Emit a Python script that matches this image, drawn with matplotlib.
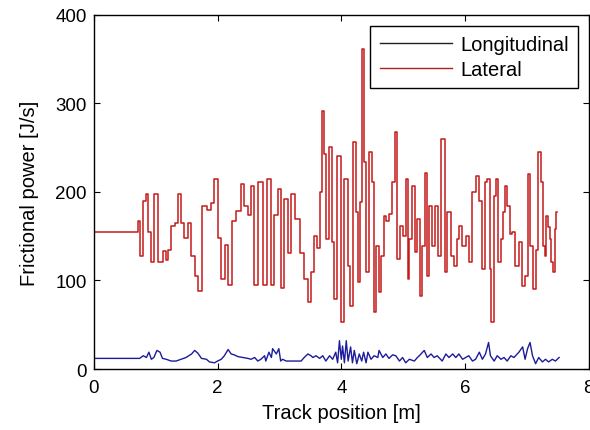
import matplotlib
matplotlib.use("Agg")
import matplotlib.pyplot as plt
from matplotlib.lines import Line2D

plt.rcParams['font.family'] = ['Liberation Sans Narrow', 'Liberation Sans', 'DejaVu Sans']

# lateral frictional power (J/s) against track position (m)
lat_x = [0.00, 0.70, 0.72, 0.76, 0.83, 0.86, 0.89, 0.95, 1.01, 1.08, 1.15, 1.18, 1.23,
         1.28, 1.33, 1.39, 1.44, 1.48, 1.55, 1.60, 1.66, 1.72, 1.79, 1.87, 1.92, 1.98,
         2.02, 2.09, 2.14, 2.19, 2.27, 2.34, 2.41, 2.46, 2.52, 2.57, 2.62, 2.70, 2.76,
         2.84, 2.89, 2.95, 3.00, 3.05, 3.11, 3.16, 3.21, 3.30, 3.35, 3.43, 3.48, 3.54,
         3.58, 3.63, 3.67, 3.71, 3.74, 3.78, 3.83, 3.87, 3.90, 3.97, 4.02, 4.08, 4.12,
         4.16, 4.21, 4.26, 4.29, 4.33, 4.35, 4.39, 4.42, 4.48, 4.52, 4.54, 4.59, 4.62,
         4.67, 4.71, 4.75, 4.80, 4.85, 4.89, 4.92, 4.98, 5.02, 5.06, 5.08, 5.12, 5.17,
         5.20, 5.24, 5.29, 5.33, 5.37, 5.40, 5.45, 5.49, 5.53, 5.58, 5.65, 5.69, 5.74,
         5.80, 5.85, 5.88, 5.93, 5.98, 6.04, 6.09, 6.15, 6.20, 6.25, 6.31, 6.34, 6.38,
         6.41, 6.44, 6.48, 6.52, 6.56, 6.59, 6.63, 6.66, 6.70, 6.74, 6.79, 6.84, 6.90,
         6.95, 6.99, 7.03, 7.08, 7.13, 7.17, 7.20, 7.25, 7.27, 7.30, 7.33, 7.35, 7.38,
         7.41, 7.44, 7.46, 7.49]
lat_y = [155, 155, 167, 128, 190, 198, 155, 121, 198, 121, 133, 123, 134,
         162, 165, 198, 165, 148, 165, 128, 105, 88, 184, 180, 188, 215,
         148, 102, 140, 95, 167, 178, 209, 184, 174, 207, 95, 211, 95,
         215, 95, 174, 203, 92, 192, 131, 198, 169, 131, 102, 76, 110,
         150, 137, 200, 292, 243, 147, 251, 143, 79, 241, 53, 215, 116,
         71, 256, 177, 98, 189, 362, 234, 110, 245, 211, 64, 139, 87,
         128, 173, 167, 175, 211, 268, 124, 162, 150, 215, 102, 147, 207,
         132, 169, 83, 139, 222, 105, 184, 139, 184, 128, 260, 110, 177,
         128, 116, 147, 162, 139, 150, 121, 200, 218, 190, 113, 211, 215,
         113, 53, 196, 215, 121, 147, 177, 207, 184, 152, 155, 116, 143,
         94, 105, 220, 139, 90, 135, 245, 211, 139, 128, 173, 160, 147,
         121, 110, 158, 177]

# longitudinal frictional power (J/s)
lon_x = [0.00, 0.74, 0.80, 0.85, 0.89, 0.93, 0.97, 1.02, 1.07, 1.11, 1.17, 1.25, 1.33,
         1.41, 1.49, 1.58, 1.63, 1.68, 1.74, 1.82, 1.87, 1.95, 2.00, 2.06, 2.11, 2.17,
         2.22, 2.27, 2.33, 2.41, 2.49, 2.54, 2.60, 2.65, 2.70, 2.76, 2.78, 2.83, 2.87,
         2.89, 2.95, 2.99, 3.02, 3.05, 3.11, 3.19, 3.27, 3.35, 3.40, 3.46, 3.51, 3.54,
         3.59, 3.65, 3.70, 3.75, 3.81, 3.86, 3.91, 3.94, 3.97, 4.00, 4.02, 4.05, 4.08,
         4.11, 4.15, 4.18, 4.21, 4.25, 4.29, 4.33, 4.36, 4.40, 4.43, 4.48, 4.53, 4.59,
         4.61, 4.67, 4.72, 4.77, 4.83, 4.88, 4.94, 4.99, 5.04, 5.10, 5.18, 5.23, 5.26,
         5.34, 5.39, 5.45, 5.50, 5.55, 5.63, 5.69, 5.74, 5.80, 5.85, 5.90, 5.96, 6.01,
         6.06, 6.12, 6.17, 6.23, 6.28, 6.33, 6.38, 6.41, 6.47, 6.52, 6.58, 6.63, 6.68,
         6.74, 6.79, 6.87, 6.93, 6.97, 7.01, 7.05, 7.09, 7.14, 7.19, 7.25, 7.30, 7.35,
         7.41, 7.46, 7.52]
lon_y = [12, 12, 15, 13, 19, 11, 13, 21, 19, 12, 11, 9, 9,
         11, 13, 17, 21, 18, 12, 11, 8, 7, 9, 11, 15, 22,
         17, 16, 14, 13, 12, 11, 13, 9, 11, 15, 9, 19, 13,
         23, 17, 23, 9, 11, 9, 9, 9, 9, 13, 17, 15, 13,
         15, 12, 15, 9, 15, 11, 19, 7, 32, 11, 26, 7, 32,
         9, 25, 7, 21, 6, 17, 9, 19, 7, 19, 11, 15, 13,
         21, 13, 17, 12, 16, 15, 9, 13, 7, 11, 9, 13, 15,
         21, 13, 17, 13, 15, 9, 17, 13, 17, 13, 17, 11, 13,
         15, 9, 11, 19, 11, 17, 30, 15, 9, 15, 11, 13, 9,
         15, 13, 19, 25, 11, 23, 30, 15, 6, 13, 8, 11, 8,
         11, 9, 13]

x_ticks = [0, 2, 4, 6, 8]
y_ticks = [0, 100, 200, 300, 400]

fig = plt.figure(figsize=(5.9, 4.31), dpi=100)
ax = fig.add_axes([0.159, 0.1415, 0.839, 0.8215])

ax.plot(lon_x, lon_y, color='#1c1c9a', linewidth=1.0)
ax.plot(lat_x, lat_y, color='#c41a1a', linewidth=1.1, drawstyle='steps-mid')

ax.set_xlim(0, 8)
ax.set_ylim(0, 400)
ax.set_xticks(x_ticks)
ax.set_yticks(y_ticks)
ax.tick_params(direction='in', top=True, right=True, length=4, labelsize=13.5)
ax.tick_params(axis='x', pad=7)
ax.tick_params(axis='y', pad=5)
for s in ax.spines.values():
    s.set_linewidth(1.0)

ax.set_xlabel('Track position [m]', fontsize=14.5, labelpad=5)
ax.set_ylabel('Frictional power [J/s]', fontsize=14.5, labelpad=12)

handles = [Line2D([], [], color='#202020', linewidth=1.0),
           Line2D([], [], color='#b02020', linewidth=1.0)]
leg = ax.legend(handles, ['Longitudinal', 'Lateral'], loc='upper right', fontsize=14.5,
                fancybox=False, framealpha=1, edgecolor='black', handlelength=3.6,
                borderaxespad=0.55, labelspacing=0.3, handletextpad=0.4, borderpad=0.45)
leg.get_frame().set_linewidth(1.0)

fig.savefig('out.png', dpi=100)
